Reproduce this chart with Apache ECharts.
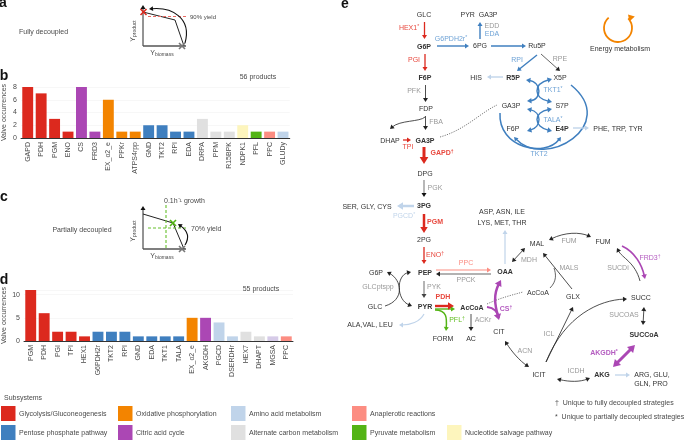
<!DOCTYPE html>
<html><head><meta charset="utf-8">
<style>html,body{margin:0;padding:0;background:#fff}#c{width:685px;height:440px}</style>
<script src="https://cdn.jsdelivr.net/npm/echarts@6/dist/echarts.min.js"></script>
</head><body><div id="c"></div>
<script>
// ---- data ----
const categoriesB = ['GAPD','PDH','PGM','ENO','CS','FRD3','EX_o2_e','PPKr','ATPS4rpp','GND','TKT2','RPI','EDA','DRPA','PPM','R15BPK','NDPK1','PFL','PPC','GLUDy'];
const valuesB     = [8,7,3,1,8,1,6,1,1,2,2,1,1,3,1,1,2,1,1,1];
const systemsB    = ['gly','gly','gly','gly','tca','tca','oxp','oxp','oxp','ppp','ppp','ppp','ppp','alt','alt','alt','nuc','pyr','ana','aa'];
const categoriesD = ['PGM','PDH','PGI','TPI','HEX1','G6PDH2r','TKT2','RPI','GND','EDA','TKT1','TALA','EX_o2_e','AKGDH','PGCD','DSERDHr','HEX7','DHAPT','MGSA','PPC'];
const valuesD     = [11,6,2,2,1,2,2,2,1,1,1,1,5,5,4,1,2,1,1,1];
const systemsD    = ['gly','gly','gly','gly','gly','ppp','ppp','ppp','ppp','ppp','ppp','ppp','oxp','tca','aa','aa','alt','alt','mgs','ana'];
const productsB = '56 products', productsD = '55 products';

const C = {gly:'#dc291e',ppp:'#3f7fbf',oxp:'#f38400',tca:'#ab47b4',aa:'#c0d4ea',alt:'#e0e0e0',ana:'#fc8d82',pyr:'#53b415',nuc:'#fdf5bd',mgs:'#d6cbe8'};
const FONT = '"Liberation Sans",Arial,sans-serif';
const TXT = '#333', GRY = '#999', LBL = '#4a4a4a';
const REDT='#e8483e', BLUT='#6fa3d6', PURT='#b45cc0', GRNT='#62bd22', SALT='#fb8b80', LBT='#c0d4ea';
const els = [];

function text(t,x,y,o={}){
  const size=o.size||7, fill=o.fill||TXT, weight=o.bold?'bold':'normal';
  const style={fill,font:`${weight} ${size}px ${FONT}`,align:o.align||'center',verticalAlign:'middle'};
  const m=/^(.*)([†*])$/.exec(t);
  if(o.rich){style.rich=o.rich;style.text=t;}
  else if(m){
    style.text=`{a|${m[1]}}{b|${m[2]}}`;
    style.rich={a:{fill,fontSize:size,fontWeight:weight,fontFamily:FONT},b:{fill,fontSize:size-2,fontWeight:weight,fontFamily:FONT,verticalAlign:'top',padding:[0,0,3,0]}};
  } else style.text=t;
  els.push({type:'text',x,y,rotation:o.rot||0,silent:true,z:10,style});
}
function head(tipx,tipy,fromx,fromy,color,h){
  const a=Math.atan2(tipy-fromy,tipx-fromx), w=h*0.62;
  els.push({type:'polygon',silent:true,z:5,shape:{points:[[tipx,tipy],
    [tipx-h*Math.cos(a)+w*Math.sin(a),tipy-h*Math.sin(a)-w*Math.cos(a)],
    [tipx-h*Math.cos(a)-w*Math.sin(a),tipy-h*Math.sin(a)+w*Math.cos(a)]]},style:{fill:color}});
}
function shorten(px,py,fx,fy,d){const L=Math.hypot(px-fx,py-fy)||1;return [px+(fx-px)*d/L,py+(fy-py)*d/L];}
// p: [x0,y0, x1,y1] straight or [x0,y0,c1x,c1y,c2x,c2y,x1,y1] bezier
function arrow(p,color='#222',w=0.8,o={}){
  const h=o.h||Math.max(4,w*2.6), curve=p.length===8;
  let [x0,y0]=p, x1=p[p.length-2], y1=p[p.length-1];
  const fromS=curve?[p[2],p[3]]:[x1,y1], fromE=curve?[p[4],p[5]]:[x0,y0];
  let sx=x0,sy=y0,ex=x1,ey=y1;
  if(o.both) { [sx,sy]=shorten(x0,y0,fromS[0],fromS[1],h*0.7); head(x0,y0,fromS[0],fromS[1],o.hc||color,h); }
  if(!o.none){ [ex,ey]=shorten(x1,y1,fromE[0],fromE[1],h*0.7); head(x1,y1,fromE[0],fromE[1],o.hc||color,h); }
  const style={stroke:color,lineWidth:w,fill:'none',lineDash:o.dash||null};
  if(curve) els.push({type:'bezierCurve',silent:true,z:4,shape:{x1:sx,y1:sy,cpx1:p[2],cpy1:p[3],cpx2:p[4],cpy2:p[5],x2:ex,y2:ey},style});
  else els.push({type:'line',silent:true,z:4,shape:{x1:sx,y1:sy,x2:ex,y2:ey},style});
}
const line=(p,c,w,dash)=>arrow(p,c,w,{none:true,dash});
function cross(x,y,c,r=3,w=1.6){
  line([x-r,y-r,x+r,y+r],c,w); line([x-r,y+r,x+r,y-r],c,w);
}

// ---- panel letters ----
[['a',3,3],['b',4,76],['c',4,197],['d',4,280],['e',345,4]].forEach(l=>text(l[0],l[1],l[2],{size:14,bold:true,fill:'#111'}));

// ---- panels a/c sketches ----
const axT={a:{fontSize:7,fill:LBL,fontFamily:FONT},b:{fontSize:5,fill:LBL,fontFamily:FONT,padding:[3,0,0,0]}};
function sketch(top,base,labelY){
  arrow([143,base,143,top],'#111',0.9,{h:4});
  line([143,base,186,base],'#555',1.3);
  text('{a|Y}{b|product}',133,labelY,{rot:Math.PI/2,rich:axT,fill:LBL});
  text('{a|Y}{b|biomass}',162,base+7,{rich:axT,fill:LBL});
}
text('Fully decoupled',19,32,{align:'left',fill:LBL});
sketch(5,46,31);
line([143,12,175,20],'#222',1); line([175,20,184,46],'#222',1);
line([148,16.5,188,16.5],'#e86a62',1.1,[3,2]);
text('90% yield',190,17,{align:'left',size:6,fill:LBL});
arrow([185,43,192,18,172,7,149,9],'#111',1.1,{h:4});
cross(143.5,12,'#dc291e'); cross(182,46,'#777');

text('Partially decoupled',82,230,{fill:LBL});
sketch(206,249,231);
line([143,214,173,223],'#222',1); line([173,223,184,249],'#222',1);
line([166,205,166,249],'#66c02c',1.1,[3,2]); line([148,228,188,228],'#66c02c',1.1,[3,2]);
text('0.1h⁻¹ growth',164,201,{align:'left',fill:LBL});
text('70% yield',191,229,{align:'left',fill:LBL});
arrow([185,245,190,237,188,231,178,224],'#111',1.1,{h:4});
cross(173,223,'#53b415'); cross(182,249,'#777');

// ---- bar titles ----
text(productsB,258,77,{fill:LBL}); text(productsD,261,289,{fill:LBL});

// ---- pathway labels ----
const g=GRY;
[
['GLC',424,15],['G6P',424,47,{bold:1}],['6PG',480,46],['PYR  GA3P',479,15],['Ru5P',537,46],['F6P',425,78,{bold:1}],['FDP',426,109],
['DHAP',390,141],['GA3P',425,141,{bold:1}],['DPG',425,174],['SER, GLY, CYS',367,207],['3PG',424,206,{bold:1}],
['HIS',476,78],['R5P',513,78,{bold:1}],['X5P',560,78],['GA3P',511,106],['S7P',562,106],['F6P',513,129],['E4P',562,129,{bold:1}],
['PHE, TRP, TYR',618,129],['Energy metabolism',620,49],['ASP, ASN, ILE',502,212],['LYS, MET, THR',502,223],['2PG',424,240],
['PEP',425,273,{bold:1}],['OAA',505,272,{bold:1}],['G6P',376,273],['GLC',375,307],['PYR',425,307,{bold:1}],['AcCoA',472,308,{bold:1}],
['AcCoA',538,293],['MAL',537,244],['FUM',603,242],['GLX',573,297],['SUCC',641,298],['SUCCoA',644,335,{bold:1}],
['ALA,VAL, LEU',370,325],['FORM',443,339],['AC',471,339],['CIT',499,332],['ICIT',539,375],['AKG',602,375,{bold:1}],
['ARG, GLU,',652,375],['GLN, PRO',651,384],
['HEX1*',409,28,{fill:REDT}],['G6PDH2r*',451,39,{fill:BLUT}],['EDD',492,26,{fill:g}],['EDA',492,34.5,{fill:BLUT}],['PGI',414,60,{fill:REDT}],
['PFK',414,91,{fill:g}],['FBA',436,122,{fill:g}],['TPI',408,147,{fill:REDT}],['GAPD†',442,153,{fill:REDT,bold:1}],['PGK',435,188,{fill:g}],
['PGCD*',404,216,{fill:LBT}],['RPI',517,60,{fill:BLUT}],['RPE',560,59,{fill:g}],['TKT1*',553,90,{fill:BLUT}],['TALA*',553,120,{fill:BLUT}],['TKT2',539,154,{fill:BLUT}],
['PGM',435,222,{fill:REDT,bold:1}],['ENO†',435,255,{fill:REDT}],['PPC',466,263,{fill:SALT}],['GLCptspp',378,287,{fill:g}],['PPCK',466,280,{fill:g}],['PYK',434,287,{fill:g}],
['PDH',443,297,{fill:REDT,bold:1}],['CS†',506,309,{fill:PURT,bold:1}],['FUM',569,241,{fill:g}],['MDH',529,260,{fill:g}],['MALS',569,268,{fill:g}],['SUCDi',618,268,{fill:g}],
['FRD3†',650,258,{fill:PURT}],['SUCOAS',624,315,{fill:g}],['PFL†',457,320,{fill:GRNT}],['ACKr',483,320,{fill:g}],['ICL',549,334,{fill:g}],['ACN',525,351,{fill:g}],
['AKGDH*',604,353,{fill:PURT,bold:1}],['ICDH',576,371,{fill:g}]
].forEach(t=>text(t[0],t[1],t[2],t[3]||{}));
text('†  Unique to fully decoupled strategies',555,403,{align:'left',fill:LBL});
text('*  Unique to partially decoupled strategies',555,417,{align:'left',fill:LBL});

// ---- pathway arrows ----
const R=C.gly,B=C.ppp,P=C.tca,LB=C.aa,SA=C.ana,GR=C.pyr,K='#222';
arrow([424.5,22,424.5,39],R,1.3);
arrow([425,54,425,71],R,1.3);
arrow([425.5,85,425.5,102],K,0.8);
arrow([425.5,116,425.5,130],K,0.8);
arrow([425,117,420,122,400,120,390,129],K,0.8);
arrow([403,140,411,140],R,1.3);
arrow([424,147,424,164],R,3,{h:7});
arrow([424,180,424,197],'#888',1.2,{hc:'#111'});
arrow([414,206,397,206],LB,2.5,{h:6});
arrow([424,214,424,233],R,2.5,{h:6});
arrow([424,247,424,264],R,1.3);
arrow([424,281,424,298],'#444',0.8);
arrow([437,46,469,46],B,1.4);
arrow([480,39,480,22],B,1.4);
arrow([491,46,526,46],B,1.4);
arrow([537,55,517,71],B,1.4);
arrow([541,54,560,71],K,0.7);
arrow([503,77,487,77],LB,1.4);
arrow([526,80,542,82,542,100,527,101],B,1.4,{both:1,h:4.5});
arrow([552,79,533,84,533,98,552,102],B,1.4,{both:1,h:4.5});
arrow([527,109,542,112,542,127,527,131],B,1.4,{both:1,h:4.5});
arrow([552,109,533,112,533,127,552,131],B,1.4,{both:1,h:4.5});
arrow([500,113,498,148,545,158,561,137],B,1.5);
arrow([571,85,620,125,545,170,514,137],B,1.5);
arrow([573,128,589,128],LB,1.4);
line([440,137,465,130,480,113,497,105],K,0.6,[1.2,1.2]);
els.push({type:'arc',silent:true,z:4,shape:{cx:618,cy:28,r:14,startAngle:-2.3,endAngle:-0.75,clockwise:false},style:{stroke:C.oxp,lineWidth:1.8,fill:'none'}});
head(628,14.5,634,21,C.oxp,6);
arrow([436,270,491,270],SA,1.1);
arrow([491,274,436,274],K,0.7);
arrow([505,264,505,230],LB,1.2);
arrow([525,248,512,262],K,0.8,{both:1});
arrow([549,240,565,232,580,232,591,237],K,0.8,{both:1});
arrow([640,281,635,262,622,258,617,248],K,0.8);
arrow([622,246,635,252,642,265,645,279],P,1.7);
arrow([644,307,643,325],K,0.8,{both:1});
arrow([613,367,635,345],P,3,{both:1,h:7});
arrow([615,375,630,375],LB,1.3);
arrow([557,379,570,382,580,382,590,378],K,0.8,{both:1});
arrow([546,362,573,307],K,0.8);
arrow([546,362,565,315,600,300,627,299],K,0.8);
arrow([572,289,543,253],K,0.8);
line([550,288,557,281,556,274,554,268],K,0.7);
line([487,304,500,298,512,295,523,292],K,0.6,[1.2,1.2]);
arrow([505,341,512,352,520,361,529,367],K,0.8,{both:1});
arrow([385,306,405,300,402,280,387,272],K,0.8);
arrow([411,272,396,275,396,300,412,306],K,0.8,{both:1});
arrow([435,306,454,306],R,2.4,{h:6});
arrow([435,309,455,309],GR,1.4);
arrow([435,310,447,310,447,318,446,331],GR,1.5);
arrow([424,314,420,322,410,325,399,325],LB,1.2);
arrow([471,314,471,331],K,0.8);
arrow([501,280,493,295,495,305,499,320],P,2.5,{both:1,h:6});
line([487,307,495,308,498,312,499,318],P,2);

// ---- legend ----
text('Subsystems',4,398,{align:'left',fill:LBL});
[
['gly','Glycolysis/Gluconeogenesis',1,406],['oxp','Oxidative phosphorylation',118,406],['aa','Amino acid metabolism',231,406],['ana','Anaplerotic reactions',352,406],
['ppp','Pentose phosphate pathway',1,425],['tca','Citric acid cycle',118,425],['alt','Alternate carbon metabolism',231,425],['pyr','Pyruvate metabolism',352,425],['nuc','Nucleotide salvage pathway',447,425]
].forEach(l=>{
  els.push({type:'rect',silent:true,shape:{x:l[2],y:l[3],width:14.5,height:15},style:{fill:C[l[0]]}});
  text(l[1],l[2]+18,l[3]+8,{align:'left',fill:LBL});
});

// ---- charts ----
const cat=(i,d)=>({gridIndex:i,type:'category',data:d,axisTick:{show:false},
  axisLine:{lineStyle:{color:'#333',width:1}},
  axisLabel:{interval:0,rotate:90,margin:4,fontSize:7,color:LBL,fontFamily:FONT}});
const val=(i,max,iv)=>({gridIndex:i,type:'value',min:0,max,interval:iv,axisLine:{show:false},axisTick:{show:false},
  splitLine:{lineStyle:{color:'#f3f3f3',width:0.7}},axisLabel:{margin:4,fontSize:7,color:LBL,fontFamily:FONT},
  name:'Valve occurrences',nameLocation:'middle',nameGap:i?16:13,nameRotate:90,nameTextStyle:{fontSize:7,color:LBL,fontFamily:FONT}});
const bars=(i,v,s)=>({type:'bar',xAxisIndex:i,yAxisIndex:i,barWidth:'81%',silent:true,
  data:v.map((y,k)=>({value:y,itemStyle:{color:C[s[k]]}}))});
const chart=echarts.init(document.getElementById('c'),null,{renderer:'canvas'});
chart.setOption({animation:false,
  grid:[{left:19.75,top:87,width:270,height:51},{left:23,top:290,width:270,height:51}],
  xAxis:[cat(0,categoriesB),cat(1,categoriesD)],
  yAxis:[val(0,8,2),{...val(1,11,5)}],
  series:[bars(0,valuesB,systemsB),bars(1,valuesD,systemsD)],
  graphic:{elements:els}
});
</script></body></html>
